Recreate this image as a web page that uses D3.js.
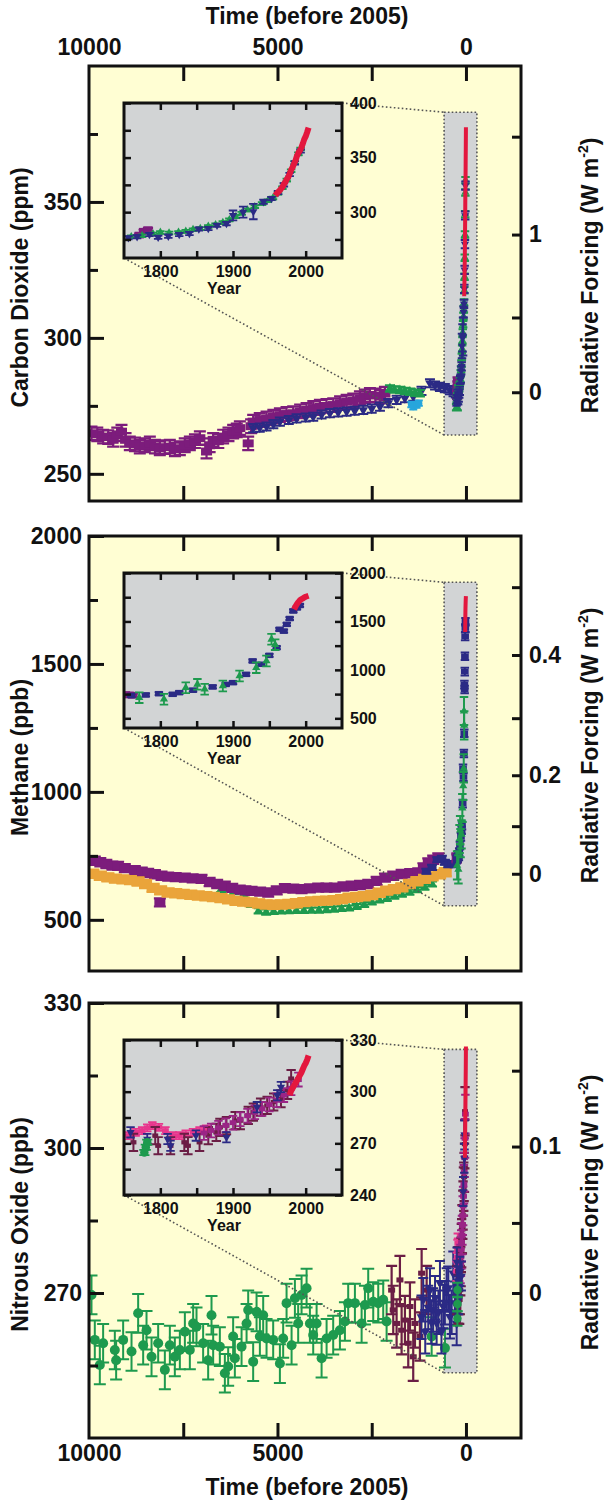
<!DOCTYPE html>
<html><head><meta charset="utf-8">
<script src="https://cdn.jsdelivr.net/npm/d3@7"></script>
<style>
html,body{margin:0;padding:0;background:#fff;}
svg{display:block;}
</style></head><body>
<svg id="chart" width="608" height="1504"></svg>
<script>
// ================= DATA =================
const referenceYear = 2005;
const timeDomain = [10000, -1460];
const timeTickValues = [7500, 5000, 2500, 0];
const timeLabelValues = [10000, 5000, 0];
const boxTime = [580, -290];
const insetYearDomain = [1750, 2050];
const insetYearTicks = [1800, 1850, 1900, 1950, 2000];
const insetYearLabels = [1800, 1900, 2000];

// ---- Carbon dioxide ----
const co2Domain = [240, 400];
const co2LeftMajor = [250, 300, 350];
const co2LeftMinor = [275, 325, 375];
const co2LeftLabels = [250, 300, 350];
const co2RfValues = [0, 0.5, 1, 1.5];
const co2RfEquivalent = [280, 307.5, 338, 374];
const co2RfLabels = [0, 1];
const co2BoxRange = [264.3, 383];
const co2InsetDomain = [258, 400];
const co2InsetTicks = [275, 300, 325, 350, 375, 400];
const co2InsetLabels = [300, 350, 400];

const co2PurpleTime = [9934, 9780, 9625, 9490, 9360, 9250, 9138, 9030, 8917, 8780, 8652, 8520, 8386, 8250, 8121, 7990, 7856, 7720, 7590, 7460, 7325, 7190, 7059, 6882, 6800, 6706, 6570, 6441, 6300, 6176, 6080, 5998, 5777, 5700, 5645, 5470, 5290, 5110, 4936, 4760, 4583, 4400, 4228, 4050, 3875, 3700, 3521, 3340, 3166, 2990, 2813, 2680, 2548, 2400, 2282, 2150];
const co2PurpleValue = [264.9, 264.5, 263.7, 263.5, 262.5, 264.5, 265.5, 262.5, 261.2, 260.8, 260.0, 260.5, 261.2, 260.0, 259.4, 259.8, 260.0, 259.0, 259.4, 260.5, 261.2, 262.0, 263.1, 258.2, 260.5, 262.5, 262.0, 263.7, 264.5, 265.5, 266.0, 266.8, 261.2, 267.5, 269.2, 269.8, 270.4, 271.0, 271.6, 272.0, 272.3, 273.0, 273.5, 274.2, 274.7, 275.0, 275.3, 276.0, 276.5, 277.0, 277.8, 278.5, 279.0, 278.8, 278.4, 279.5];
const co2PurpleErr = 2.5;
const co2NavyTime = [5645, 5470, 5290, 5110, 4936, 4700, 4494, 4250, 4052, 3830, 3609, 3390, 3166, 2950, 2725, 2500, 2282, 2060, 1839, 1620, 1398, 1180, 955, 820, 690, 560, 425, 330, 270];
const co2NavyValue = [266.8, 267.0, 267.4, 268.3, 269.2, 269.8, 270.4, 270.7, 271.0, 271.8, 272.3, 272.6, 272.9, 273.2, 273.5, 274.0, 274.7, 276.0, 277.2, 277.8, 278.4, 280.5, 283.3, 282.5, 282.0, 281.5, 280.8, 280.0, 279.6];
const co2NavyErr = 1.5;
const co2GreenTime = [2017, 1900, 1752, 1620, 1486, 1350, 1221, 240];
const co2GreenValue = [281.4, 281.0, 280.8, 280.5, 280.2, 279.8, 279.6, 274.5];
const co2GreenErr = 1.2;
const co2CyanTime = [1450, 1398, 1310, 1250];
const co2CyanValue = [275.5, 274.7, 275.3, 276.0];
const co2CyanErr = 1.0;

const co2InsetNavyYear = [1756, 1768, 1785, 1797, 1811, 1826, 1840, 1853, 1866, 1878, 1891, 1900, 1914, 1928, 1942, 1953, 1962, 1970, 1978, 1985, 1993];
const co2InsetNavyValue = [276.5, 277.5, 279.5, 277.0, 278.0, 279.5, 280.5, 284.5, 285.0, 288.0, 289.5, 297.0, 300.0, 300.5, 309.5, 312.5, 318.0, 325.0, 334.5, 345.0, 356.0];
const co2InsetNavyErr = [1.5, 1.5, 1.5, 1.5, 1.5, 1.5, 1.5, 1.5, 1.5, 1.5, 1.5, 4.5, 5, 7, 2, 1.5, 1.5, 1.5, 1.5, 1.5, 1.5];
const co2InsetGreenYear = [1760, 1775, 1790, 1800, 1812, 1825, 1835, 1845, 1855, 1866, 1876, 1886, 1895, 1904, 1912, 1920, 1930, 1940, 1948, 1955, 1962, 1968, 1974, 1980, 1985, 1990, 1993];
const co2InsetGreenValue = [277.5, 278.5, 280.0, 281.5, 281.0, 281.5, 282.5, 284.0, 285.0, 287.0, 288.5, 290.5, 293.0, 296.0, 299.0, 302.0, 305.0, 308.0, 310.5, 313.0, 317.5, 322.5, 329.5, 338.0, 345.5, 353.5, 358.0];
const co2InsetGreenErr = 1.2;
const co2InsetPurpleYear = [1771, 1777, 1783];
const co2InsetPurpleValue = [279.0, 282.5, 284.0];
const co2InsetPurpleErr = 1.5;
const co2RedYear = [1958, 1960, 1962, 1964, 1966, 1968, 1970, 1972, 1974, 1976, 1978, 1980, 1982, 1984, 1986, 1988, 1990, 1992, 1994, 1996, 1998, 2000, 2002, 2004];
const co2RedValue = [315.3, 316.9, 318.4, 319.6, 321.4, 323.0, 325.7, 327.5, 330.2, 332.1, 335.4, 338.7, 341.1, 344.4, 347.2, 351.5, 354.4, 356.4, 358.9, 362.6, 366.7, 369.4, 373.2, 377.5];

// ---- Methane ----
const ch4Domain = [300, 2000];
const ch4LeftMajor = [500, 1000, 1500, 2000];
const ch4LeftMinor = [750, 1250, 1750];
const ch4LeftLabels = [500, 1000, 1500, 2000];
const ch4RfValues = [0, 0.1, 0.2, 0.3, 0.4, 0.5];
const ch4RfEquivalent = [680, 866, 1065, 1288, 1535, 1800];
const ch4RfLabels = [0, 0.2, 0.4];
const ch4BoxRange = [555, 1819];
const ch4InsetDomain = [400, 2000];
const ch4InsetTicks = [500, 750, 1000, 1250, 1500, 1750, 2000];
const ch4InsetLabels = [500, 1000, 1500, 2000];

const ch4PurpleTime = [9846, 9700, 9540, 9380, 9228, 9050, 8784, 8600, 8430, 8250, 8120, 8076, 7900, 7700, 7457, 7250, 7015, 6800, 6600, 6396, 6200, 6000, 5850, 5687, 5460, 5246, 5020, 4804, 4580, 4361, 4140, 3920, 3700, 3477, 3250, 3033, 2810, 2592, 2370, 2150, 1930, 1707, 1480, 1266, 1130, 1000, 870, 735];
const ch4PurpleValue = [731, 725, 718, 712, 711, 702, 694, 688, 683, 678, 568, 672, 669, 667, 665, 662, 660, 648, 640, 633, 625, 618, 615, 613, 610, 607, 615, 624, 622, 620, 623, 626, 626, 626, 630, 633, 636, 640, 652, 665, 672, 679, 682, 685, 705, 724, 735, 744];
const ch4PurpleErr = 16;
const ch4OrangeTime = [9900, 9700, 9500, 9300, 9100, 8900, 8700, 8500, 8300, 8100, 7900, 7700, 7500, 7300, 7100, 6900, 6700, 6500, 6300, 6100, 5900, 5700, 5500, 5300, 5100, 4900, 4700, 4500, 4300, 4100, 3900, 3700, 3500, 3300, 3100, 2900, 2700, 2500, 2300, 2100, 1900, 1700, 1500, 1300, 1100, 900, 700, 550];
const ch4OrangeValue = [680, 672, 666, 661, 658, 655, 650, 640, 625, 615, 607, 604, 601, 598, 595, 592, 589, 585, 580, 574, 571, 568, 564, 560, 559, 560, 562, 565, 569, 572, 574, 575, 577, 581, 586, 589, 592, 597, 606, 614, 620, 627, 640, 651, 660, 670, 678, 686];
const ch4OrangeErr = 16;
const ch4GreenTime = [6500, 6300, 6150, 5900, 5700, 5500, 5300, 5100, 4900, 4700, 4500, 4300, 4100, 3900, 3700, 3500, 3300, 3100, 2900, 2700, 2500, 2300, 2100, 1900, 1700, 1500, 1300, 1100, 900];
const ch4GreenValue = [618, 622, 610, 598, 560, 535, 530, 533, 535, 536, 537, 537, 538, 538, 540, 542, 544, 546, 552, 560, 570, 578, 584, 592, 600, 608, 618, 628, 640];
const ch4GreenErr = 10;
const ch4NavyTime = [1050, 900, 760, 640, 560, 470, 380, 300];
const ch4NavyValue = [690, 705, 735, 740, 725, 715, 720, 715];
const ch4NavyErr = 10;

const ch4InsetPurpleYear = [1752, 1757, 1762];
const ch4InsetPurpleValue = [745, 741, 738];
const ch4InsetNavyYear = [1760, 1780, 1798, 1817, 1826, 1845, 1872, 1890, 1900, 1918, 1927, 1939, 1950, 1960, 1964, 1970, 1974, 1978, 1983, 1988, 1992];
const ch4InsetNavyValue = [735, 741, 754, 748, 765, 790, 824, 850, 868, 954, 1092, 1058, 1150, 1229, 1419, 1400, 1470, 1530, 1608, 1640, 1665];
const ch4InsetNavyErr = 15;
const ch4InsetGreenYear = [1771, 1805, 1835, 1851, 1861, 1886, 1909, 1932, 1946, 1953, 1958];
const ch4InsetGreenValue = [713, 697, 816, 851, 800, 834, 937, 1023, 1092, 1316, 1260];
const ch4InsetGreenErr = 55;
const ch4RedYear = [1984, 1986, 1988, 1990, 1992, 1994, 1996, 1998, 2000, 2002, 2004];
const ch4RedValue = [1625, 1655, 1680, 1700, 1718, 1728, 1738, 1748, 1755, 1760, 1765];

// ---- Nitrous oxide ----
const n2oDomain = [240, 330];
const n2oLeftMajor = [270, 300, 330];
const n2oLeftMinor = [255, 285, 315];
const n2oLeftLabels = [270, 300, 330];
const n2oRfValues = [0, 0.05, 0.1, 0.15];
const n2oRfEquivalent = [270, 284.5, 300.3, 316];
const n2oRfLabels = [0, 0.1];
const n2oBoxRange = [253.5, 320.4];
const n2oInsetDomain = [240, 330];
const n2oInsetTicks = [240, 255, 270, 285, 300, 315, 330];
const n2oInsetLabels = [240, 270, 300, 330];

const n2oGreenTime = [9934, 9846, 9713, 9625, 9315, 9280, 9094, 8872, 8696, 8563, 8474, 8341, 8165, 7988, 7855, 7723, 7590, 7457, 7325, 7237, 7148, 6972, 6839, 6750, 6706, 6529, 6396, 6308, 6176, 6131, 5953, 5820, 5777, 5645, 5555, 5467, 5379, 5290, 5114, 4936, 4849, 4759, 4626, 4538, 4451, 4361, 4228, 4140, 4052, 3962, 3830, 3697, 3522, 3344, 3211, 3124, 2946, 2768, 2680, 2593, 2460, 2327, 2195, 2105, 910, 557];
const n2oGreenValue = [269.6, 260.3, 255.1, 259.6, 258.2, 256.1, 260.3, 257.9, 265.8, 259.2, 262.3, 256.8, 259.6, 254.1, 259.2, 256.8, 258.2, 262.0, 258.2, 263.7, 263.0, 259.6, 256.1, 265.4, 259.2, 258.9, 253.4, 254.8, 261.0, 256.5, 258.9, 263.7, 266.5, 255.8, 266.1, 261.0, 265.4, 260.6, 260.3, 255.4, 260.6, 267.9, 259.2, 268.9, 263.7, 269.6, 271.0, 263.7, 261.3, 263.7, 256.5, 260.6, 261.3, 262.3, 264.1, 267.9, 267.9, 263.7, 267.5, 271.0, 268.2, 267.9, 268.6, 264.1, 261.0, 258.6];
const n2oGreenErr = 4;
const n2oMaroonTime = [1972, 1929, 1840, 1752, 1707, 1619, 1531, 1486, 1399, 1353, 1221, 1176, 1043];
const n2oMaroonValue = [270.6, 266.5, 263.7, 272.7, 262.3, 264.4, 259.6, 267.2, 256.8, 263.7, 261.0, 274.1, 270.6];
const n2oMaroonErr = 5;
const n2oNavyTime = [1180, 1133, 1080, 1000, 955, 920, 868, 820, 778, 730, 690, 650, 602, 560, 512, 470, 425, 380, 337, 292, 247];
const n2oNavyValue = [265.0, 268.6, 262.0, 267.0, 270.6, 264.0, 266.5, 269.0, 263.8, 266.0, 272.1, 262.0, 267.2, 268.0, 270.6, 271.0, 265.1, 266.0, 274.1, 267.9, 263.7];
const n2oNavyErr = 4.5;

const n2oInsetPinkYear = [1756, 1766, 1775, 1782, 1789, 1798, 1807, 1817, 1826, 1835, 1845, 1854, 1863];
const n2oInsetPinkValue = [274.5, 276.4, 277.4, 279.0, 280.3, 279.3, 277.4, 274.5, 274.5, 275.5, 276.4, 277.4, 278.4];
const n2oInsetPinkErr = 2;
const n2oInsetMaroonYear = [1763, 1793, 1797, 1814, 1833, 1838, 1854, 1866, 1877, 1882, 1891, 1903, 1910, 1921, 1928, 1938, 1947, 1956, 1966, 1975, 1980];
const n2oInsetMaroonValue = [270.6, 274.5, 268.6, 268.6, 270.6, 268.6, 270.6, 274.5, 276.4, 279.3, 280.3, 283.2, 283.2, 286.2, 288.1, 291.0, 292.0, 294.0, 295.9, 300.8, 307.6];
const n2oInsetMaroonErr = 5;
const n2oInsetPurpleYear = [1860, 1870, 1880, 1890, 1900, 1910, 1920, 1930, 1940, 1950, 1960, 1970, 1980, 1990];
const n2oInsetPurpleValue = [276.0, 277.5, 279.0, 280.5, 282.0, 284.0, 286.0, 288.0, 290.0, 292.5, 295.0, 298.0, 302.0, 307.0];
const n2oInsetPurpleErr = 4;
const n2oInsetNavyYear = [1759, 1782, 1810, 1814, 1849, 1891, 1933, 1961, 1966];
const n2oInsetNavyValue = [276.4, 272.5, 272.5, 268.6, 274.5, 273.5, 291.0, 297.9, 302.7];
const n2oInsetNavyErr = 3;
const n2oInsetGreenYear = [1778, 1780, 1782];
const n2oInsetGreenValue = [264.7, 267.7, 270.6];
const n2oInsetGreenErr = 1.5;
const n2oRedYear = [1978, 1980, 1982, 1984, 1986, 1988, 1990, 1992, 1994, 1996, 1998, 2000, 2002, 2004];
const n2oRedValue = [298.0, 300.5, 302.0, 303.5, 305.0, 306.5, 308.0, 309.5, 311.0, 313.0, 315.0, 316.5, 318.5, 321.0];

// ================= STYLE / LAYOUT =================
const W = 608, H = 1504;
const FONT = '"Liberation Sans", Arial, Helvetica, sans-serif';
const YELLOW = '#FFFED3';
const GRAY = '#D2D4D5';
const INK = '#111';
const frameLeft = 89, frameRight = 521;
const panelTops = [66, 536, 1003], panelH = 435;
const inset = {dx: 35, dy: 37, w: 218, h: 155};

const ST = {
  purpleSq: {color: '#7C1C7C', shape: 'square', size: 11, cap: 12, ew: 2.2},
  navyTri:  {color: '#2B2A85', shape: 'tridown', size: 9, cap: 10, ew: 2},
  greenTri: {color: '#1E9A4E', shape: 'tri', size: 9, cap: 10, ew: 2},
  cyanCirc: {color: '#27A6DC', shape: 'circle', size: 7, cap: 8, ew: 2},
  red:      {color: '#E3173E', line: true, lw: 4, lwInset: 6},
  orange:   {color: '#EAA43A', shape: 'wide', size: 13, cap: 13, ew: 2.2},
  navySq:   {color: '#2B2A85', shape: 'square', size: 9, cap: 10, ew: 2},
  greenCirc:{color: '#1E9A4E', shape: 'circle', size: 10, cap: 12, ew: 2},
  maroon:   {color: '#6B1E45', shape: 'square', size: 7, cap: 11, ew: 2.2},
  pink:     {color: '#E8368D', shape: 'square', size: 8, cap: 10, ew: 2},
  magenta:  {color: '#9A2486', shape: 'square', size: 8, cap: 10, ew: 2}
};

const panels = [
  {
    domain: co2Domain, leftMajor: co2LeftMajor, leftMinor: co2LeftMinor, leftLabels: co2LeftLabels,
    rfValues: co2RfValues, rfEq: co2RfEquivalent, rfLabels: co2RfLabels,
    title: 'Carbon Dioxide (ppm)', box: co2BoxRange,
    insetDomain: co2InsetDomain, insetTicks: co2InsetTicks, insetLabels: co2InsetLabels,
    main: [
      {t: co2PurpleTime, v: co2PurpleValue, err: co2PurpleErr, style: ST.purpleSq},
      {t: co2NavyTime, v: co2NavyValue, err: co2NavyErr, style: ST.navyTri},
      {t: co2CyanTime, v: co2CyanValue, err: co2CyanErr, style: ST.cyanCirc},
      {t: co2GreenTime, v: co2GreenValue, err: co2GreenErr, style: ST.greenTri}
    ],
    recent: [
      {year: co2InsetPurpleYear, v: co2InsetPurpleValue, err: co2InsetPurpleErr, style: ST.purpleSq},
      {year: co2InsetGreenYear, v: co2InsetGreenValue, err: co2InsetGreenErr, style: ST.greenTri},
      {year: co2InsetNavyYear, v: co2InsetNavyValue, err: co2InsetNavyErr, style: ST.navyTri},
      {year: co2RedYear, v: co2RedValue, err: 0, style: ST.red}
    ]
  },
  {
    domain: ch4Domain, leftMajor: ch4LeftMajor, leftMinor: ch4LeftMinor, leftLabels: ch4LeftLabels,
    rfValues: ch4RfValues, rfEq: ch4RfEquivalent, rfLabels: ch4RfLabels,
    title: 'Methane (ppb)', box: ch4BoxRange,
    insetDomain: ch4InsetDomain, insetTicks: ch4InsetTicks, insetLabels: ch4InsetLabels,
    main: [
      {t: ch4GreenTime, v: ch4GreenValue, err: ch4GreenErr, style: ST.greenTri},
      {t: ch4PurpleTime, v: ch4PurpleValue, err: ch4PurpleErr, style: ST.purpleSq},
      {t: ch4OrangeTime, v: ch4OrangeValue, err: ch4OrangeErr, style: ST.orange},
      {t: ch4NavyTime, v: ch4NavyValue, err: ch4NavyErr, style: ST.navySq}
    ],
    recent: [
      {year: ch4InsetPurpleYear, v: ch4InsetPurpleValue, err: 15, style: ST.purpleSq},
      {year: ch4InsetNavyYear, v: ch4InsetNavyValue, err: ch4InsetNavyErr, style: ST.navySq},
      {year: ch4InsetGreenYear, v: ch4InsetGreenValue, err: ch4InsetGreenErr, style: ST.greenTri},
      {year: ch4RedYear, v: ch4RedValue, err: 0, style: ST.red}
    ]
  },
  {
    domain: n2oDomain, leftMajor: n2oLeftMajor, leftMinor: n2oLeftMinor, leftLabels: n2oLeftLabels,
    rfValues: n2oRfValues, rfEq: n2oRfEquivalent, rfLabels: n2oRfLabels,
    title: 'Nitrous Oxide (ppb)', box: n2oBoxRange,
    insetDomain: n2oInsetDomain, insetTicks: n2oInsetTicks, insetLabels: n2oInsetLabels,
    main: [
      {t: n2oGreenTime, v: n2oGreenValue, err: n2oGreenErr, style: ST.greenCirc},
      {t: n2oMaroonTime, v: n2oMaroonValue, err: n2oMaroonErr, style: ST.maroon},
      {t: n2oNavyTime, v: n2oNavyValue, err: n2oNavyErr, style: ST.navyTri}
    ],
    recent: [
      {year: n2oInsetPinkYear, v: n2oInsetPinkValue, err: n2oInsetPinkErr, style: ST.pink},
      {year: n2oInsetMaroonYear, v: n2oInsetMaroonValue, err: n2oInsetMaroonErr, style: ST.maroon},
      {year: n2oInsetPurpleYear, v: n2oInsetPurpleValue, err: n2oInsetPurpleErr, style: ST.magenta},
      {year: n2oInsetNavyYear, v: n2oInsetNavyValue, err: n2oInsetNavyErr, style: ST.navyTri},
      {year: n2oInsetGreenYear, v: n2oInsetGreenValue, err: n2oInsetGreenErr, style: ST.greenCirc},
      {year: n2oRedYear, v: n2oRedValue, err: 0, style: ST.red}
    ]
  }
];

// ================= DRAW =================
const svg = d3.select('#chart');
svg.append('rect').attr('width', W).attr('height', H).attr('fill', '#fff');
const defs = svg.append('defs');

const x = d3.scaleLinear().domain(timeDomain).range([frameLeft, frameRight]);

function marker(g, shape, cx, cy, size, color) {
  if (shape === 'square') {
    g.append('rect').attr('x', cx - size / 2).attr('y', cy - size * 0.36).attr('width', size).attr('height', size * 0.72).attr('fill', color);
  } else if (shape === 'wide') {
    g.append('rect').attr('x', cx - size / 2).attr('y', cy - size * 0.35).attr('width', size).attr('height', size * 0.7).attr('fill', color);
  } else if (shape === 'circle') {
    g.append('circle').attr('cx', cx).attr('cy', cy).attr('r', size / 2).attr('fill', color);
  } else {
    const type = shape === 'star' ? d3.symbolStar : (shape === 'diamond' ? d3.symbolDiamond : d3.symbolTriangle);
    const p = g.append('path').attr('d', d3.symbol().type(type).size(size * size * 0.5)()).attr('fill', color);
    p.attr('transform', `translate(${cx},${cy})` + (shape === 'tridown' ? ' rotate(180)' : ''));
  }
}

function drawSeries(g, ts, s, xs, ys, k, isInset) {
  const st = s.style;
  if (st.line) {
    g.append('path').datum(ts.map((t, i) => [xs(t), ys(s.v[i])]))
      .attr('d', d3.line()).attr('fill', 'none').attr('stroke', st.color)
      .attr('stroke-width', isInset ? st.lwInset : st.lw)
      .attr('stroke-linejoin', 'round').attr('stroke-linecap', 'butt');
    return;
  }
  const gg = g.append('g');
  const errAt = i => Array.isArray(s.err) ? s.err[i] : s.err;
  ts.forEach((t, i) => {
    const e = errAt(i);
    if (!(e > 0)) return;
    const cx = xs(t), yHi = ys(s.v[i] + e), yLo = ys(s.v[i] - e), cw = st.cap * k / 2;
    gg.append('path')
      .attr('d', `M${cx},${yHi}V${yLo}M${cx - cw},${yHi}H${cx + cw}M${cx - cw},${yLo}H${cx + cw}`)
      .attr('stroke', st.color).attr('stroke-width', st.ew * (isInset ? 0.9 : 1)).attr('fill', 'none');
  });
  ts.forEach((t, i) => marker(gg, st.shape, xs(t), ys(s.v[i]), st.size * k, st.color));
}

function styleAxis(g, size) {
  g.attr('font-family', FONT).attr('font-size', size).attr('font-weight', 'bold');
  g.select('.domain').remove();
  g.selectAll('.tick line').attr('stroke', INK).attr('stroke-width', 3);
  g.selectAll('.tick text').attr('fill', INK);
}

const fmt = d3.format('~g');
const labelIf = list => d => list.includes(d) ? fmt(d) : '';

panels.forEach((p, idx) => {
  const top = panelTops[idx], bottom = top + panelH;
  const y = d3.scaleLinear().domain(p.domain).range([bottom, top]);
  const g = svg.append('g');

  const clipId = 'clip' + idx;
  defs.append('clipPath').attr('id', clipId).append('rect')
    .attr('x', frameLeft).attr('y', top).attr('width', frameRight - frameLeft).attr('height', panelH);

  g.append('rect').attr('x', frameLeft).attr('y', top).attr('width', frameRight - frameLeft).attr('height', panelH).attr('fill', YELLOW);

  const bx0 = x(boxTime[0]), bx1 = x(boxTime[1]), byT = y(p.box[1]), byB = y(p.box[0]);
  g.append('rect').attr('x', bx0).attr('y', byT).attr('width', bx1 - bx0).attr('height', byB - byT)
    .attr('fill', GRAY).attr('stroke', '#555').attr('stroke-width', 1.6).attr('stroke-dasharray', '1.6 2.2');

  const dg = g.append('g').attr('clip-path', `url(#${clipId})`);
  p.main.forEach(s => drawSeries(dg, s.t, s, x, y, 1, false));
  p.recent.forEach(s => drawSeries(dg, s.year.map(yr => referenceYear - yr), s, x, y, 0.85, false));

  const iL = frameLeft + inset.dx, iT = top + inset.dy, iR = iL + inset.w, iB = iT + inset.h;

  const dots = sel => sel.attr('stroke', '#555').attr('stroke-width', 1.6).attr('stroke-dasharray', '1.6 2.4').attr('fill', 'none');
  dots(g.append('line').attr('x1', iR).attr('y1', iT).attr('x2', bx0).attr('y2', byT));
  dots(g.append('line').attr('x1', iL).attr('y1', iB).attr('x2', bx0).attr('y2', byB));

  g.append('rect').attr('x', frameLeft).attr('y', top).attr('width', frameRight - frameLeft).attr('height', panelH)
    .attr('fill', 'none').attr('stroke', INK).attr('stroke-width', 3);

  styleAxis(g.append('g').attr('transform', `translate(0,${top})`)
    .call(d3.axisTop(x).tickValues(timeTickValues).tickSize(-15).tickFormat('')), 23);
  styleAxis(g.append('g').attr('transform', `translate(0,${bottom})`)
    .call(d3.axisBottom(x).tickValues(timeTickValues).tickSize(-15).tickFormat('')), 23);

  styleAxis(g.append('g').attr('transform', `translate(${frameLeft},0)`)
    .call(d3.axisLeft(y).tickValues(p.leftMajor).tickSize(-15).tickPadding(7).tickFormat(labelIf(p.leftLabels))), 23);
  styleAxis(g.append('g').attr('transform', `translate(${frameLeft},0)`)
    .call(d3.axisLeft(y).tickValues(p.leftMinor).tickSize(-9).tickFormat('')), 23);

  const rf = d3.scaleLinear().domain(p.rfValues).range(p.rfEq.map(y));
  styleAxis(g.append('g').attr('transform', `translate(${frameRight},0)`)
    .call(d3.axisRight(rf).tickValues(p.rfValues).tickSize(-9).tickPadding(8).tickFormat(labelIf(p.rfLabels))), 23);

  const cy = top + panelH / 2;
  g.append('text').attr('transform', `translate(28,${cy + 4}) rotate(-90)`).attr('text-anchor', 'middle')
    .attr('font-family', FONT).attr('font-size', 23).attr('font-weight', 'bold').attr('fill', INK).text(p.title);
  const rt = g.append('text').attr('transform', `translate(598,${cy - 8}) rotate(-90)`).attr('text-anchor', 'middle')
    .attr('font-family', FONT).attr('font-size', 23).attr('font-weight', 'bold').attr('fill', INK);
  rt.append('tspan').text('Radiative Forcing (W m');
  rt.append('tspan').attr('dy', -10).attr('font-size', 14).text('-2');
  rt.append('tspan').attr('dy', 10).text(')');

  // ---------- inset ----------
  const xi = d3.scaleLinear().domain(insetYearDomain).range([iL, iR]);
  const yi = d3.scaleLinear().domain(p.insetDomain).range([iB, iT]);
  const ig = svg.append('g');
  const iclip = 'iclip' + idx;
  defs.append('clipPath').attr('id', iclip).append('rect').attr('x', iL).attr('y', iT).attr('width', inset.w).attr('height', inset.h);
  ig.append('rect').attr('x', iL).attr('y', iT).attr('width', inset.w).attr('height', inset.h).attr('fill', GRAY);
  const idg = ig.append('g').attr('clip-path', `url(#${iclip})`);
  p.recent.forEach(s => drawSeries(idg, s.year, s, xi, yi, 0.85, true));
  ig.append('rect').attr('x', iL).attr('y', iT).attr('width', inset.w).attr('height', inset.h)
    .attr('fill', 'none').attr('stroke', INK).attr('stroke-width', 3);

  styleAxis(ig.append('g').attr('transform', `translate(0,${iB})`)
    .call(d3.axisBottom(xi).tickValues(insetYearTicks).tickSize(-7).tickPadding(8).tickFormat(labelIf(insetYearLabels))), 16);
  styleAxis(ig.append('g').attr('transform', `translate(0,${iT})`)
    .call(d3.axisTop(xi).tickValues(insetYearTicks).tickSize(-7).tickFormat('')), 16);
  styleAxis(ig.append('g').attr('transform', `translate(${iL},0)`)
    .call(d3.axisLeft(yi).tickValues(p.insetTicks).tickSize(-7).tickFormat('')), 16);
  styleAxis(ig.append('g').attr('transform', `translate(${iR},0)`)
    .call(d3.axisRight(yi).tickValues(p.insetTicks.concat(p.insetLabels.filter(v => !p.insetTicks.includes(v))))
      .tickSize(-7).tickPadding(8).tickFormat(labelIf(p.insetLabels))), 16);
  ig.selectAll('.tick line').attr('stroke-width', 2.5);

  ig.append('text').attr('x', (iL + iR) / 2 - 9).attr('y', iB + 36).attr('text-anchor', 'middle')
    .attr('font-family', FONT).attr('font-size', 16).attr('font-weight', 'bold').attr('fill', INK).text('Year');
});

const topY = panelTops[0], botY = panelTops[2] + panelH;
styleAxis(svg.append('g').attr('transform', `translate(0,${topY})`)
  .call(d3.axisTop(x).tickValues(timeLabelValues).tickSize(0).tickPadding(11).tickFormat(d3.format('d'))), 23);
styleAxis(svg.append('g').attr('transform', `translate(0,${botY})`)
  .call(d3.axisBottom(x).tickValues(timeLabelValues).tickSize(0).tickPadding(7).tickFormat(d3.format('d'))), 23);

svg.append('text').attr('x', 307).attr('y', 24).attr('text-anchor', 'middle')
  .attr('font-family', FONT).attr('font-size', 23).attr('font-weight', 'bold').attr('fill', INK).text('Time (before 2005)');
svg.append('text').attr('x', 307).attr('y', 1495).attr('text-anchor', 'middle')
  .attr('font-family', FONT).attr('font-size', 23).attr('font-weight', 'bold').attr('fill', INK).text('Time (before 2005)');
</script>
</body></html>
